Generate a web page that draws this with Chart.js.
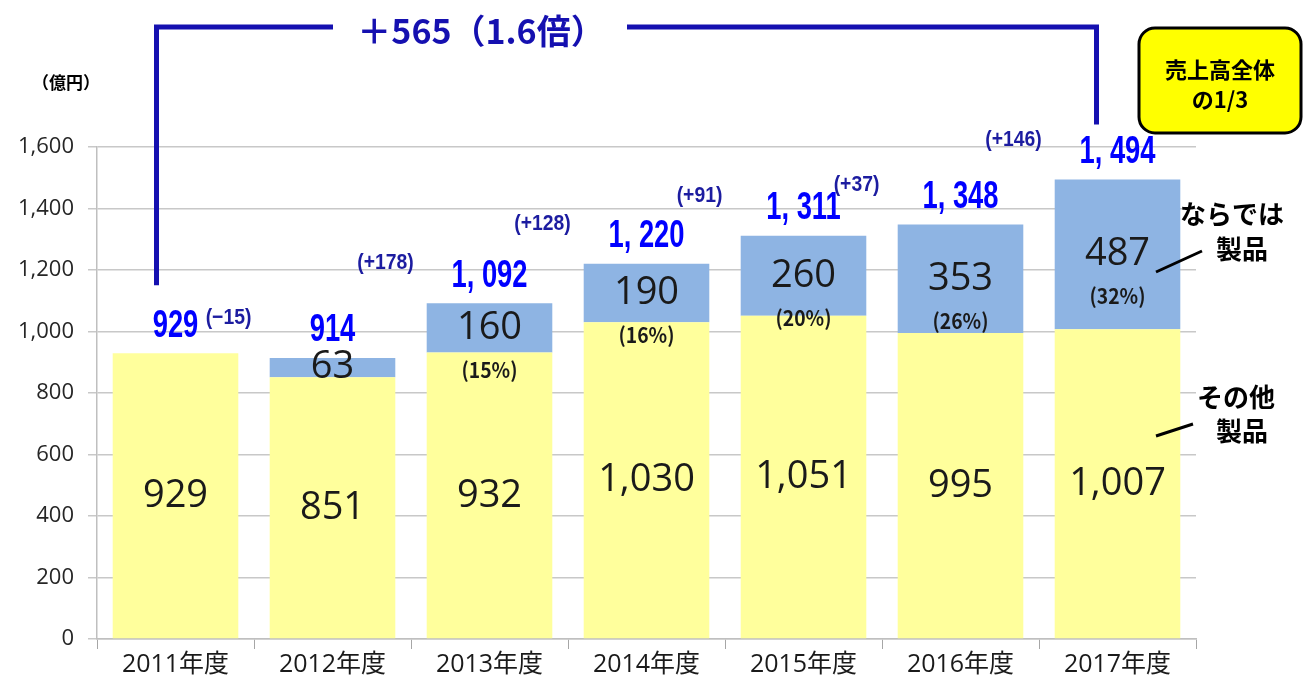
<!DOCTYPE html>
<html lang="ja">
<head>
<meta charset="utf-8">
<script src="https://cdn.jsdelivr.net/npm/chart.js@4.4.1/dist/chart.umd.min.js"></script>
<style>
  html, body { margin: 0; padding: 0; background: #fff; }
  #wrap { width: 1304px; height: 686px; }
</style>
</head>
<body>
<div id="wrap"><canvas id="salesChart" width="1304" height="686"></canvas></div>
<script>
// categories and values
const years = ['2011年度', '2012年度', '2013年度', '2014年度', '2015年度', '2016年度', '2017年度'];
const otherProducts = [929, 851, 932, 1030, 1051, 995, 1007];
const specialProducts = [0, 63, 160, 190, 260, 353, 487];
const totalLabels = ['929', '914', '1, 092', '1, 220', '1, 311', '1, 348', '1, 494'];
const diffLabels = ['', '(−15)', '(+178)', '(+128)', '(+91)', '(+37)', '(+146)'];
const shareLabels = ['', '', '(15%)', '(16%)', '(20%)', '(26%)', '(32%)'];
const yTicks = [0, 200, 400, 600, 800, 1000, 1200, 1400, 1600];

const NAVY = '#1510b0';

// draws text squeezed horizontally, like a condensed face
function narrowText(ctx, text, x, y, squeeze) {
  ctx.save();
  ctx.translate(x, y);
  ctx.scale(squeeze, 1);
  ctx.fillText(text, 0, 0);
  ctx.restore();
}

const annotations = {
  id: 'annotations',
  afterDatasetsDraw(chart) {
    const ctx = chart.ctx;
    const x = chart.scales.x;
    const y = chart.scales.y;
    ctx.save();
    ctx.textAlign = 'center';
    ctx.textBaseline = 'middle';

    years.forEach((yr, i) => {
      const cx = x.getPixelForValue(i);
      const base = otherProducts[i];
      const top = base + specialProducts[i];

      // number inside yellow segment
      ctx.fillStyle = '#1a1a1a';
      ctx.font = '38px "Open Sans", sans-serif';
      ctx.fillText(base.toLocaleString('en-US'), cx, (y.getPixelForValue(0) + y.getPixelForValue(base)) / 2);

      // number inside blue segment
      if (specialProducts[i] > 0) {
        const mid = (y.getPixelForValue(base) + y.getPixelForValue(top)) / 2;
        ctx.fillText(String(specialProducts[i]), cx, mid);
        if (shareLabels[i]) {
          ctx.font = 'bold 21px "Noto Sans CJK JP", sans-serif';
          narrowText(ctx, shareLabels[i], cx, mid + 42, 0.92);
        }
      }

      // total above the bar
      const ty = y.getPixelForValue(top) - 27;
      ctx.fillStyle = '#0000ff';
      ctx.font = 'bold 38px "Liberation Sans", sans-serif';
      narrowText(ctx, totalLabels[i], cx, ty, 0.72);

      // change from previous year
      if (diffLabels[i]) {
        ctx.fillStyle = '#1c1ca0';
        ctx.font = 'bold 22px "Liberation Sans", "Noto Sans CJK JP", sans-serif';
        narrowText(ctx, diffLabels[i], cx - 104, ty - 13, 0.88);
      }
    });

    // bracket over the whole period
    const last = years.length - 1;
    const lx = x.getPixelForValue(0) - 19;
    const rx = x.getPixelForValue(last) - 21;
    const ly = y.getPixelForValue(otherProducts[0] + specialProducts[0]) - 68;
    const ry = y.getPixelForValue(otherProducts[last] + specialProducts[last]) - 55;
    ctx.strokeStyle = NAVY;
    ctx.lineWidth = 5;
    ctx.beginPath();
    ctx.moveTo(lx, ly); ctx.lineTo(lx, 27); ctx.lineTo(333, 27);
    ctx.moveTo(627, 27); ctx.lineTo(rx, 27); ctx.lineTo(rx, ry);
    ctx.stroke();
    ctx.fillStyle = NAVY;
    ctx.font = '600 34px "Noto Sans CJK JP", sans-serif';
    ctx.fillText('＋565（1.6倍）', 481, 31);

    // yellow callout
    ctx.beginPath();
    ctx.roundRect(1139, 28, 162, 105, 16);
    ctx.fillStyle = '#ffff00';
    ctx.fill();
    ctx.lineWidth = 3;
    ctx.strokeStyle = '#000';
    ctx.stroke();
    ctx.fillStyle = '#000';
    ctx.font = 'bold 22px "Noto Sans CJK JP", sans-serif';
    ctx.fillText('売上高全体', 1220, 70);
    ctx.fillText('の1/3', 1220, 100);

    // unit label
    ctx.font = 'bold 17px "Noto Sans CJK JP", sans-serif';
    ctx.fillText('（億円）', 66, 83);

    // series labels on the right
    ctx.font = 'bold 26px "Noto Sans CJK JP", sans-serif';
    ctx.fillText('ならでは', 1232, 214);
    ctx.fillText('製品', 1242, 249);
    ctx.fillText('その他', 1236, 397);
    ctx.fillText('製品', 1242, 431);
    ctx.lineWidth = 3;
    ctx.beginPath();
    ctx.moveTo(1156, 272); ctx.lineTo(1202, 251);
    ctx.moveTo(1156, 436); ctx.lineTo(1193, 424);
    ctx.stroke();

    ctx.restore();
  }
};

new Chart(document.getElementById('salesChart'), {
  type: 'bar',
  data: {
    labels: years,
    datasets: [{
      label: 'その他製品',
      data: otherProducts,
      backgroundColor: '#ffff9c',
      borderWidth: 0,
      barPercentage: 0.8,
      categoryPercentage: 1.0
    }, {
      label: 'ならでは製品',
      data: specialProducts,
      backgroundColor: '#8eb4e3',
      borderWidth: 0,
      barPercentage: 0.8,
      categoryPercentage: 1.0
    }]
  },
  options: {
    responsive: false,
    animation: false,
    layout: { padding: { left: 0, right: 108, top: 147, bottom: 0 } },
    plugins: {
      legend: { display: false },
      tooltip: { enabled: false }
    },
    scales: {
      x: {
        stacked: true,
        afterFit(scale) { scale.height = 47; },
        grid: { drawOnChartArea: false, drawTicks: true, tickLength: 10, color: '#a6a6a6' },
        border: { color: '#bfbfbf', width: 1.5 },
        ticks: { color: '#1a1a1a', font: { size: 25, family: '"Open Sans", "Noto Sans CJK JP", sans-serif' }, padding: 1 }
      },
      y: {
        stacked: true,
        min: 0,
        max: 1600,
        afterFit(scale) { scale.width = 97; },
        afterBuildTicks(scale) { scale.ticks = yTicks.map(v => ({ value: v })); },
        grid: { color: '#c8c8c8', lineWidth: 1.5, tickLength: 9 },
        border: { color: '#bfbfbf', width: 1.5 },
        ticks: {
          color: '#262626',
          padding: 14,
          font: { size: 22, family: '"Open Sans", sans-serif' },
          callback: v => v.toLocaleString('en-US')
        }
      }
    }
  },
  plugins: [annotations]
});
</script>
</body>
</html>
